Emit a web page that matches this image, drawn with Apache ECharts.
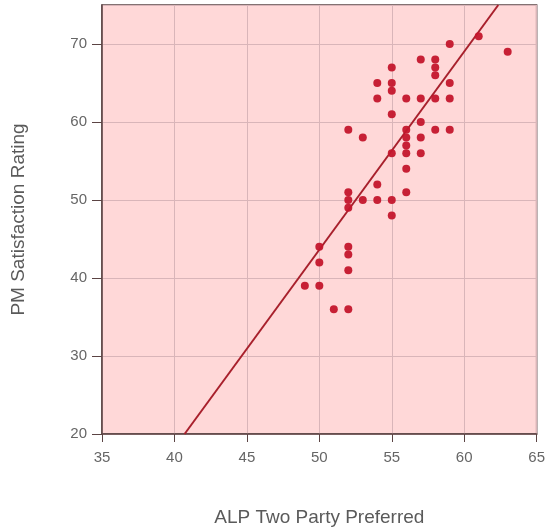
<!DOCTYPE html>
<html><head><meta charset="utf-8">
<script src="https://cdn.jsdelivr.net/npm/echarts@6/dist/echarts.min.js"></script>
<style>html,body{margin:0;padding:0;background:#fff}#c{width:548px;height:532px}</style>
</head><body><div id="c"></div>
<script>
const alpTPP = [63,61,59,55,57,58,58,58,54,55,55,59,54,56,57,58,59,55,57,52,53,56,58,59,56,57,56,55,56,57,56,56,52,52,53,54,55,54,55,52,50,52,52,50,52,49,50,51,52];
const pmSat  = [69,71,70,67,68,68,67,66,65,65,64,65,63,63,63,63,63,61,60,59,58,59,59,59,58,58,57,56,56,56,54,51,51,50,50,50,50,52,48,49,44,44,43,42,41,39,39,36,36];
const trendX = [40.7, 62.35];
const trendY = [20, 75];
const xTicks = [35,40,45,50,55,60,65];
const yTicks = [20,30,40,50,60,70];

const pts = alpTPP.map((x,i)=>[x,pmSat[i]]);
const line = trendX.map((x,i)=>[x,trendY[i]]);
const chart = echarts.init(document.getElementById('c'));
const FF = 'Liberation Sans, Arial, sans-serif';
const labelStyle = {color:'#666', fontSize:15, fontFamily:FF};
chart.setOption({
  animation:false,
  grid:{left:102,right:6,top:5,bottom:85,show:true,backgroundColor:'#ffd8d8',borderColor:'#5b4444',borderWidth:1.5},
  xAxis:{type:'value',min:35,max:65,interval:5,
    name:'ALP Two Party Preferred',nameLocation:'middle',nameGap:74,
    nameTextStyle:{color:'#5a5a5a',fontSize:19,fontFamily:FF},
    axisLine:{show:true,lineStyle:{color:'#5b4444',width:1.5}},
    axisTick:{show:true,length:8,lineStyle:{color:'#5b4444'}},
    axisLabel:Object.assign({margin:16,formatter:v=>xTicks.includes(v)?String(v):''},labelStyle),
    splitLine:{show:true,lineStyle:{color:'#d9b5b9',width:1}}},
  yAxis:{type:'value',min:20,max:75,interval:10,
    name:'PM Satisfaction Rating',nameLocation:'middle',nameGap:74,
    nameTextStyle:{color:'#5a5a5a',fontSize:19,fontFamily:FF},
    axisLine:{show:true,lineStyle:{color:'#5b4444',width:1.5}},
    axisTick:{show:true,length:10,lineStyle:{color:'#5b4444'}},
    axisLabel:Object.assign({margin:15,showMaxLabel:false,formatter:v=>yTicks.includes(v)?String(v):''},labelStyle),
    splitLine:{show:true,lineStyle:{color:'#d9b5b9',width:1}}},
  series:[
    {type:'line',data:line,symbol:'none',lineStyle:{color:'#a8202c',width:2},z:3},
    {type:'scatter',data:pts,symbolSize:8,itemStyle:{color:'#c4162c',opacity:0.95},z:4}
  ]
});
</script></body></html>
